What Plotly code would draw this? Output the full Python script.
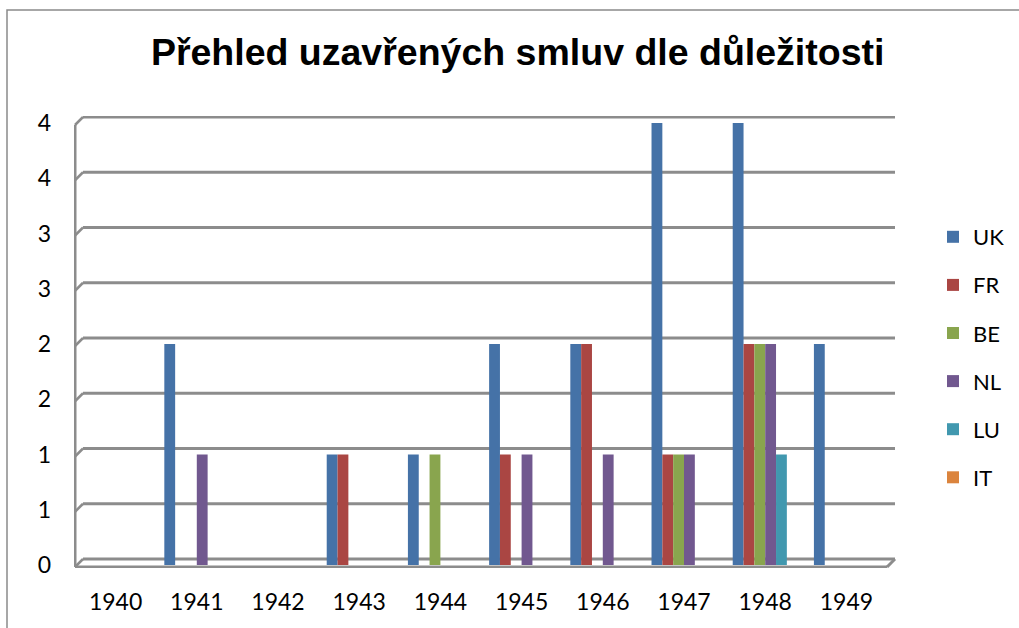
import plotly.graph_objects as go

years = ["1940", "1941", "1942", "1943", "1944", "1945", "1946", "1947", "1948", "1949"]
series_names = ["UK", "FR", "BE", "NL", "LU", "IT"]
uk = [0, 2, 0, 1, 1, 2, 2, 4, 4, 2]
fr = [0, 0, 0, 1, 0, 1, 2, 1, 2, 0]
be = [0, 0, 0, 0, 1, 0, 0, 1, 2, 0]
nl = [0, 1, 0, 0, 0, 1, 1, 1, 2, 0]
lu = [0, 0, 0, 0, 0, 0, 0, 0, 1, 0]
it = [0, 0, 0, 0, 0, 0, 0, 0, 0, 0]
series_values = [uk, fr, be, nl, lu, it]
colors = ["#4572A7", "#AA4643", "#89A54E", "#71588F", "#4198AF", "#DB843D"]
y_tickvals = [0, 0.5, 1, 1.5, 2, 2.5, 3, 3.5, 4]
y_ticktext = ["0", "1", "1", "2", "2", "3", "3", "4", "4"]
title = "Přehled uzavřených smluv dle důležitosti"

W, H = 1019, 628
PXU = 110.5      # px per y unit
PXC = 81.2       # px per category
DX_BACK = 8      # back wall offset in px (right)
DY_BACK = 6      # back wall offset in px (up)
DY_FRONT = 2     # front edge offset in px (down)
ymin = -3 / PXU
ymax = 4 + 7 / PXU
xmin = -0.5 - 1 / PXC
xmax = 9.5 + 10 / PXC
L = 74
PW = round((xmax - xmin) * PXC)
R = W - L - PW
T = 116
PH = round((ymax - ymin) * PXU)
B = H - T - PH

bx = DX_BACK / PXC
by = DY_BACK / PXU
fy = DY_FRONT / PXU

fig = go.Figure()
for name, vals, col in zip(series_names, series_values, colors):
    fig.add_trace(go.Bar(
        name=name, x=list(range(len(years))), y=vals, marker_color=col,
        marker_line=dict(width=0), legendgroup=name,
    ))

grid_col = "#8C8C8C"
shapes = []
for t in y_tickvals:
    shapes.append(dict(type="line", xref="x", yref="y",
                       x0=-0.5 + bx, x1=9.5 + bx, y0=t + by, y1=t + by,
                       line=dict(color=grid_col, width=3), layer="below"))
    shapes.append(dict(type="line", xref="x", yref="y",
                       x0=-0.5, x1=-0.5 + bx, y0=t - fy, y1=t + by,
                       line=dict(color=grid_col, width=2.5), layer="below"))
shapes.append(dict(type="line", xref="x", yref="y",
                   x0=-0.5, x1=-0.5, y0=-fy, y1=4 - fy,
                   line=dict(color=grid_col, width=3), layer="below"))
shapes.append(dict(type="line", xref="x", yref="y",
                   x0=-0.5, x1=9.5, y0=-fy, y1=-fy,
                   line=dict(color=grid_col, width=3), layer="above"))
shapes.append(dict(type="line", xref="x", yref="y",
                   x0=9.5, x1=9.5 + bx, y0=-fy, y1=by,
                   line=dict(color=grid_col, width=3), layer="above"))
fx0 = (7 - L) / PW
fy1 = (H - B - 10) / PH
shapes.append(dict(type="path", xref="paper", yref="paper",
                   path=f"M {fx0},{-B / PH - 0.1} L {fx0},{fy1} L {(W + 20 - L) / PW},{fy1}",
                   line=dict(color="#8A8A8A", width=1.5)))

fig.update_layout(
    width=W, height=H,
    margin=dict(l=L, r=R, t=T, b=B, autoexpand=False),
    paper_bgcolor="white", plot_bgcolor="rgba(0,0,0,0)",
    barmode="group", bargap=0.2, bargroupgap=0,
    title=dict(text=title, x=0.508, xanchor="center", y=1 - 52 / H, yanchor="middle",
               font=dict(family="Liberation Sans, Arial", size=37.5, color="black", weight="bold")),
    font=dict(family="Lato", size=23, color="black"),
    xaxis=dict(range=[xmin, xmax], tickmode="array", tickvals=list(range(len(years))),
               ticktext=years, showgrid=False, showline=False, zeroline=False, ticks="",
               ticklabelstandoff=18),
    yaxis=dict(range=[ymin, ymax], tickvals=y_tickvals, ticktext=y_ticktext,
               showgrid=False, zeroline=False, showline=False, ticks="",
               ticklabelstandoff=22),
    legend=dict(x=(933 - L) / PW, xanchor="left", y=(H - B - 216) / PH, yanchor="top",
                font=dict(size=22), tracegroupgap=16.5, bgcolor="rgba(0,0,0,0)",
                itemwidth=30),
    shapes=shapes,
)

fig.write_html("out.html", config={"displayModeBar": False},
               post_script="document.body.style.margin='0';document.body.style.overflow='hidden';")
